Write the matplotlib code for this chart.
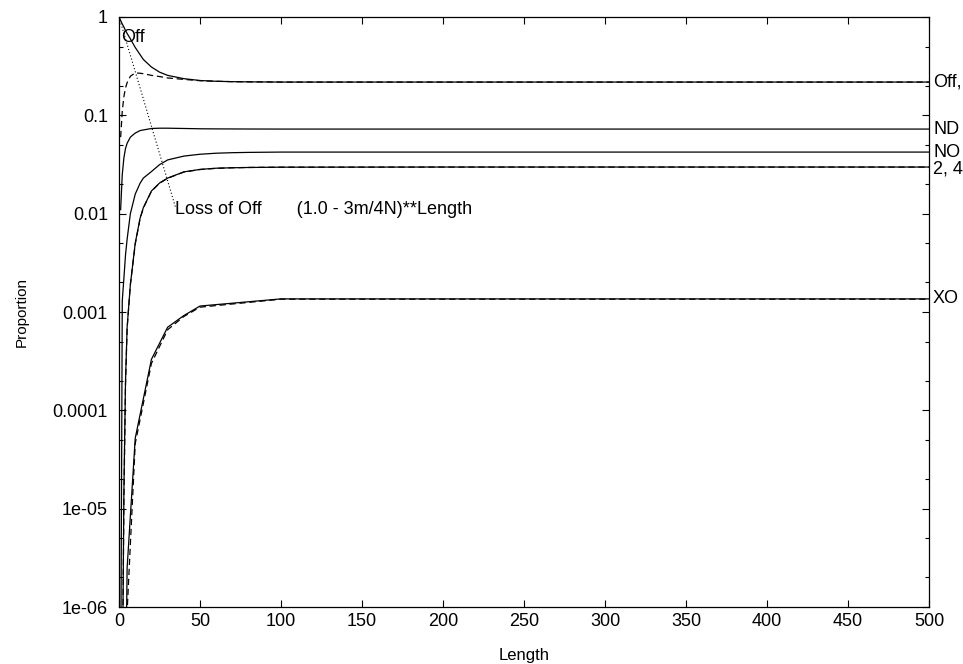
import numpy as np
import matplotlib
matplotlib.use("Agg")
import matplotlib.pyplot as plt
from matplotlib.ticker import LogLocator, NullFormatter

plt.rcParams["font.family"] = ["Liberation Sans", "DejaVu Sans"]
plt.rcParams["font.size"] = 13

# ---------- 数据 ----------
L_off = [0, 1, 2, 3, 4, 5, 7, 10, 15, 20, 25, 30, 40, 50, 60, 70, 80, 100, 200, 300, 400, 500]
off_solid = [1.0, 0.92, 0.85, 0.79, 0.73, 0.68, 0.60, 0.49, 0.37, 0.31, 0.275, 0.255, 0.236,
             0.226, 0.222, 0.220, 0.219, 0.218, 0.218, 0.218, 0.218, 0.218]

L_curve = [1, 2, 3, 4, 5, 7, 10, 13, 15, 20, 25, 30, 40, 50, 60, 70, 80, 100, 200, 300, 400, 500]
off_dash = [0.06, 0.11, 0.155, 0.19, 0.215, 0.25, 0.27, 0.268, 0.265, 0.255, 0.248, 0.240, 0.232,
            0.225, 0.222, 0.220, 0.219, 0.218, 0.218, 0.218, 0.218, 0.218]
nd = [0.011, 0.025, 0.037, 0.046, 0.052, 0.060, 0.066, 0.070, 0.071, 0.0735, 0.074, 0.074, 0.0735,
      0.073, 0.0728, 0.0727, 0.0726, 0.0725, 0.0725, 0.0725, 0.0725, 0.0725]
no = [1e-7, 0.0013, 0.0022, 0.0038, 0.0055, 0.0100, 0.0158, 0.0204, 0.023, 0.0268, 0.0315,
      0.0352, 0.0385, 0.0402, 0.0412, 0.0417, 0.0420, 0.0423, 0.0423, 0.0423, 0.0423, 0.0423]
two_four = [1e-7, 1e-7, 1.5e-5, 0.0002, 0.0007, 0.0019, 0.0050, 0.0090, 0.0115, 0.0170, 0.0205,
            0.0230, 0.0266, 0.0282, 0.0290, 0.0293, 0.0295, 0.0297, 0.0298, 0.0298, 0.0298, 0.0298]
two_four_dash = [1e-7, 1e-7, 1.2e-5, 0.00018, 0.00068, 0.0019, 0.0049, 0.0089, 0.0114, 0.0169,
                 0.0204, 0.0229, 0.0265, 0.0281, 0.0289, 0.0293, 0.0295, 0.0297, 0.0298, 0.0298,
                 0.0298, 0.0298]

L_xo = [4, 5, 10, 20, 30, 40, 50, 100, 150, 200, 250, 300, 350, 400, 450, 500]
xo = [1e-7, 2.5e-6, 5.2e-5, 3.3e-4, 7.0e-4, 9.2e-4, 1.15e-3, 1.36e-3, 1.36e-3, 1.36e-3,
      1.36e-3, 1.36e-3, 1.36e-3, 1.36e-3, 1.36e-3, 1.36e-3]
xo_dash = [1e-7, 9e-7, 4.6e-5, 3.0e-4, 6.6e-4, 9.0e-4, 1.12e-3, 1.35e-3, 1.35e-3, 1.35e-3,
           1.35e-3, 1.35e-3, 1.35e-3, 1.35e-3, 1.35e-3, 1.35e-3]

# (1.0 - 3m/4N)**Length
L_loss = [0, 5, 10, 15, 20, 25, 30, 35]
loss_off = [1.0, 0.527, 0.279, 0.147, 0.0775, 0.0409, 0.0216, 0.0114]

right_labels = ["Off,", "ND", "NO", "2, 4", "XO"]
right_y = [0.218, 0.0725, 0.0423, 0.0285, 0.00136]

ytick_vals = [1e-6, 1e-5, 1e-4, 1e-3, 1e-2, 1e-1, 1]
ytick_labels = ["1e-06", "1e-05", "0.0001", "0.001", "0.01", "0.1", "1"]
xtick_vals = [0, 50, 100, 150, 200, 250, 300, 350, 400, 450, 500]

# ---------- 画图 ----------
fig = plt.figure(figsize=(9.63, 6.64), dpi=100)
ax = fig.add_axes([0.1236, 0.0858, 0.8411, 0.8886])

lw = 0.9
dash = (5, 3)
ax.plot(L_off, off_solid, color="black", lw=lw)
ax.plot(L_curve, off_dash, color="black", lw=lw, dashes=dash)
ax.plot(L_curve, nd, color="black", lw=lw)
ax.plot(L_curve, no, color="black", lw=lw)
ax.plot(L_curve, two_four, color="black", lw=lw)
ax.plot(L_curve, two_four_dash, color="black", lw=lw, dashes=dash)
ax.plot(L_xo, xo, color="black", lw=lw)
ax.plot(L_xo, xo_dash, color="black", lw=lw, dashes=dash)
ax.plot(L_loss, loss_off, color="black", lw=0.8, dashes=(1, 2))

ax.set_yscale("log")
ax.set_xlim(0, 500)
ax.set_ylim(1e-6, 1)
ax.set_xticks(xtick_vals)
ax.set_yticks(ytick_vals, ytick_labels)
ax.yaxis.set_minor_locator(LogLocator(base=10, subs=(2.0, 5.0)))
ax.yaxis.set_minor_formatter(NullFormatter())
ax.tick_params(which="both", direction="in", top=True, right=True, width=0.8)
ax.tick_params(which="major", length=5, labelsize=13)
ax.tick_params(axis="y", which="major", pad=8)
ax.tick_params(axis="x", which="major", pad=4)
ax.tick_params(which="minor", length=3)
for s in ax.spines.values():
    s.set_linewidth(0.9)

ax.set_xlabel("Length", fontsize=12, labelpad=13)
ax.set_ylabel("Proportion", fontsize=11, labelpad=17)

ax.text(1.2, 0.62, "Off", ha="left", va="center")
ax.text(34.5, 0.011, "Loss of Off       (1.0 - 3m/4N)**Length", ha="left", va="center")
for lab, yv in zip(right_labels, right_y):
    ax.text(502.5, yv, lab, ha="left", va="center", clip_on=False)

fig.savefig("out.png", dpi=100)
